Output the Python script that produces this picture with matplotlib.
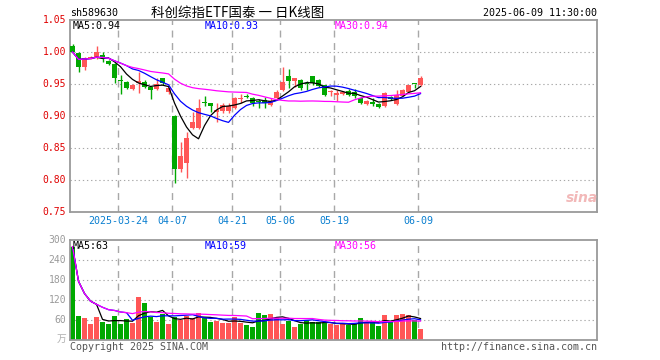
import matplotlib
matplotlib.use("Agg")
import matplotlib.pyplot as plt
import pandas as pd

# ---------------- data ----------------
dates = ["2025-03-12", "2025-03-13", "2025-03-14", "2025-03-17", "2025-03-18", "2025-03-19",
         "2025-03-20", "2025-03-21", "2025-03-24", "2025-03-25", "2025-03-26", "2025-03-27",
         "2025-03-28", "2025-03-31", "2025-04-01", "2025-04-02", "2025-04-03", "2025-04-07",
         "2025-04-08", "2025-04-09", "2025-04-10", "2025-04-11", "2025-04-14", "2025-04-15",
         "2025-04-16", "2025-04-17", "2025-04-18", "2025-04-21", "2025-04-22", "2025-04-23",
         "2025-04-24", "2025-04-25", "2025-04-28", "2025-04-29", "2025-04-30", "2025-05-06",
         "2025-05-07", "2025-05-08", "2025-05-09", "2025-05-12", "2025-05-13", "2025-05-14",
         "2025-05-15", "2025-05-16", "2025-05-19", "2025-05-20", "2025-05-21", "2025-05-22",
         "2025-05-23", "2025-05-26", "2025-05-27", "2025-05-28", "2025-05-29", "2025-05-30",
         "2025-06-03", "2025-06-04", "2025-06-05", "2025-06-06", "2025-06-09"]

opens = [1.009, 0.999, 0.977, 0.990, 0.990, 0.996, 0.986, 0.982, 0.957, 0.953,
         0.942, 0.951, 0.953, 0.946, 0.942, 0.959, 0.938, 0.900, 0.817, 0.826,
         0.882, 0.881, 0.921, 0.920, 0.907, 0.908, 0.908, 0.912, 0.927, 0.931,
         0.928, 0.923, 0.925, 0.917, 0.928, 0.941, 0.962, 0.955, 0.957, 0.951,
         0.962, 0.956, 0.948, 0.937, 0.933, 0.935, 0.939, 0.938, 0.928, 0.919,
         0.922, 0.919, 0.916, 0.930, 0.918, 0.932, 0.938, 0.9505, 0.948]
highs = [1.012, 1.000, 0.992, 0.994, 1.009, 1.000, 0.988, 0.983, 0.964, 0.955,
         0.950, 0.968, 0.956, 0.947, 0.959, 0.960, 0.946, 0.901, 0.860, 0.875,
         0.907, 0.927, 0.931, 0.921, 0.920, 0.921, 0.921, 0.930, 0.935, 0.934,
         0.930, 0.927, 0.930, 0.928, 0.940, 0.977, 0.974, 0.960, 0.958, 0.955,
         0.963, 0.958, 0.949, 0.941, 0.940, 0.939, 0.942, 0.942, 0.930, 0.925,
         0.928, 0.920, 0.937, 0.931, 0.940, 0.942, 0.949, 0.9505, 0.963]
lows = [0.999, 0.969, 0.972, 0.989, 0.989, 0.985, 0.980, 0.952, 0.935, 0.942,
        0.940, 0.936, 0.944, 0.927, 0.940, 0.949, 0.935, 0.795, 0.813, 0.803,
        0.880, 0.880, 0.915, 0.906, 0.891, 0.905, 0.904, 0.911, 0.920, 0.928,
        0.915, 0.912, 0.912, 0.915, 0.926, 0.939, 0.944, 0.946, 0.940, 0.941,
        0.949, 0.945, 0.932, 0.931, 0.923, 0.933, 0.931, 0.928, 0.918, 0.917,
        0.915, 0.912, 0.914, 0.925, 0.917, 0.931, 0.937, 0.943, 0.947]
closes = [1.000, 0.977, 0.990, 0.992, 1.000, 0.990, 0.982, 0.959, 0.954, 0.943,
          0.948, 0.954, 0.946, 0.940, 0.950, 0.951, 0.943, 0.817, 0.838, 0.865,
          0.890, 0.912, 0.920, 0.916, 0.909, 0.917, 0.916, 0.928, 0.928, 0.929,
          0.920, 0.922, 0.920, 0.923, 0.938, 0.953, 0.955, 0.959, 0.944, 0.950,
          0.951, 0.947, 0.933, 0.938, 0.936, 0.938, 0.933, 0.932, 0.921, 0.923,
          0.919, 0.914, 0.936, 0.927, 0.933, 0.940, 0.948, 0.9495, 0.960]
volumes = [280, 72, 66, 48, 69, 54, 48, 72, 48, 63,
           51, 130, 111, 70, 55, 78, 48, 70, 59, 73,
           65, 80, 66, 55, 58, 50, 52, 70, 50, 46,
           40, 80, 75, 77, 67, 48, 58, 40, 48, 59,
           53, 53, 50, 47, 45, 50, 46, 48, 66, 55,
           54, 42, 75, 57, 75, 78, 75, 61, 33]

tick_dates = ["2025-03-24", "2025-04-07", "2025-04-21", "2025-05-06", "2025-05-19", "2025-06-09"]
tick_labels = ["2025-03-24", "04-07", "04-21", "05-06", "05-19", "06-09"]
price_ticks = [0.75, 0.80, 0.85, 0.90, 0.95, 1.00, 1.05]
vol_ticks = [60, 120, 180, 240, 300]
ma_windows = [5, 10, 30]
price_ma_text = ["0.94", "0.93", "0.94"]
vol_ma_text = ["63", "59", "56"]

title = "科创综指ETF国泰 一 日K线图"
code = "sh589630"
stamp = "2025-06-09 11:30:00"

# ---------------- style ----------------
W, H = 660, 360
RED = "#ff5656"
GREEN = "#00a800"
MA_COLORS = ["#000000", "#0000ff", "#ff00ff"]
GRID = "#a8a8a8"
FRAME = "#9a9a9a"
MONO = "DejaVu Sans Mono"
CJK = ["Noto Sans CJK SC", "DejaVu Sans"]

def fx(px):
    return px / W

def fy(py):
    return 1 - py / H

fig = plt.figure(figsize=(6.6, 3.6), dpi=100)
left, right = 70, 597
ax = fig.add_axes([fx(left), fy(212), fx(right - left), (212 - 20) / H])
axv = fig.add_axes([fx(left), fy(340), fx(right - left), (340 - 240) / H])

n = len(dates)
xs = list(range(n))
xlim = (-0.42, -0.42 + (right - left) / 6.0)

df = pd.DataFrame({"o": opens, "h": highs, "l": lows, "c": closes, "v": volumes})
up = [c >= o for o, c in zip(opens, closes)]
colors = [RED if u else GREEN for u in up]

for a in (ax, axv):
    a.set_xlim(*xlim)
    for s in a.spines.values():
        s.set_color(FRAME)
        s.set_linewidth(1.3)
    a.set_xticks([])
    a.set_yticks([])

ax.set_ylim(0.75, 1.05)
axv.set_ylim(0, 300)

for t in price_ticks[1:-1]:
    ax.axhline(t, color=GRID, lw=0.8, ls=(0, (1.2, 2.5)), zorder=0)
for t in vol_ticks[:-1]:
    axv.axhline(t, color=GRID, lw=0.8, ls=(0, (1.2, 2.5)), zorder=0)

tick_idx = [dates.index(d) for d in tick_dates]
for i in tick_idx:
    for a in (ax, axv):
        a.axvline(i - 0.38, color=GRID, lw=1.0, ls=(0, (5, 4)), zorder=0)

# candles
body_w = 0.8
bottoms = [min(o, c) for o, c in zip(opens, closes)]
heights = [max(abs(c - o), 0.0016) for o, c in zip(opens, closes)]
ax.vlines(xs, lows, highs, colors=colors, lw=1.0, zorder=2)
ax.bar(xs, heights, bottom=bottoms, width=body_w, color=colors, lw=0, zorder=3)

for w, col in zip(ma_windows, MA_COLORS):
    ma = df["c"].rolling(w, min_periods=1).mean()
    ax.plot(xs, ma, color=col, lw=0.9, zorder=4)

# volume
axv.bar(xs, volumes, width=body_w, color=colors, lw=0, zorder=2)
for w, col in zip(ma_windows, MA_COLORS):
    ma = df["v"].rolling(w, min_periods=1).mean()
    axv.plot(xs, ma, color=col, lw=0.9, zorder=4)

# y tick labels (right edge at x=66 px)
lab_x = fx(66)
for t in price_ticks:
    yy = ax.transAxes.inverted().transform(ax.transData.transform((0, t)))[1]
    fig.text(lab_x, fy(20) - (1 - yy) * (212 - 20) / H, f"{t:.2f}", ha="right",
             va="center", color="#e00000", fontsize=7, family=MONO)
for t in vol_ticks:
    fig.text(lab_x, fy(340) + (t / 300) * (100 / H), f"{t}", ha="right",
             va="center", color="#9a9a9a", fontsize=7, family=MONO)
fig.text(lab_x, fy(339), "万", ha="right", va="center", color="#b0b0b0",
         fontsize=7, family=CJK)

# date labels
for i, lab in zip(tick_idx, tick_labels):
    ax.text(i - 0.38, -0.047, lab, transform=ax.get_xaxis_transform(), ha="center",
            va="center", color="#0a7fd0", fontsize=7.2, family=MONO)

# MA legends
ma_x = [73, 205, 335]
for xx, w, col, tv in zip(ma_x, ma_windows, MA_COLORS, price_ma_text):
    fig.text(fx(xx), fy(26), f"MA{w}:{tv}", color=col, fontsize=7.2, family=MONO,
             ha="left", va="center")
for xx, w, col, tv in zip(ma_x, ma_windows, MA_COLORS, vol_ma_text):
    fig.text(fx(xx), fy(246), f"MA{w}:{tv}", color=col, fontsize=7.2, family=MONO,
             ha="left", va="center")

# header
fig.text(fx(70), fy(13), code, color="#000000", fontsize=7.2, family=MONO,
         ha="left", va="center")
fig.text(fx(238), fy(13), title, color="#000000", fontsize=9.7, family=CJK,
         ha="center", va="center")
fig.text(fx(597), fy(13), stamp, color="#000000", fontsize=7.2, family=MONO,
         ha="right", va="center")

# footer
fig.text(fx(70), fy(347), "Copyright 2025 SINA.COM", color="#555555", fontsize=7.2,
         family=MONO, ha="left", va="center")
fig.text(fx(597), fy(347), "http://finance.sina.com.cn", color="#555555", fontsize=7.2,
         family=MONO, ha="right", va="center")

# watermark
fig.text(fx(582), fy(198), "sina", color="#f2b8b8", fontsize=10, style="italic",
         weight="bold", ha="center", va="center", family="DejaVu Sans")

fig.savefig("out.png", dpi=100)
